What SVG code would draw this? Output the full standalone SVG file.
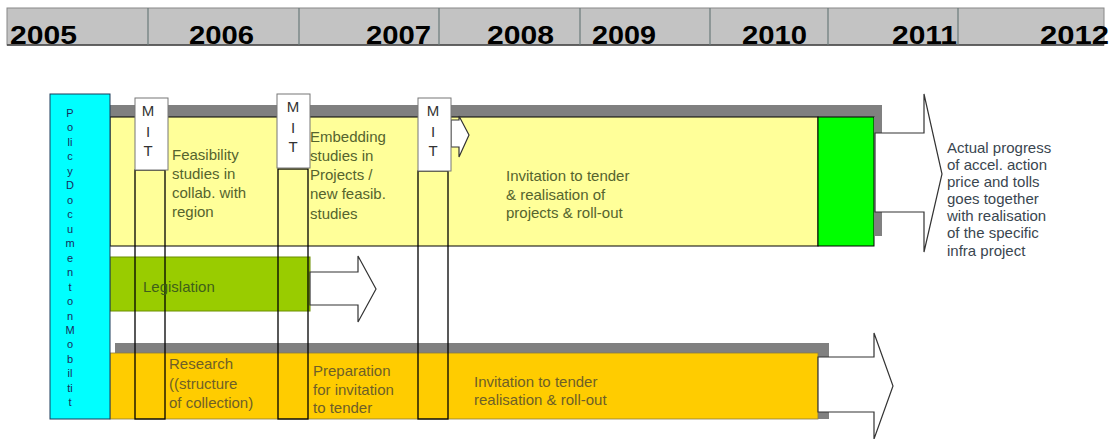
<svg xmlns="http://www.w3.org/2000/svg" width="1115" height="439" viewBox="0 0 1115 439">
<style>
.yr{font-family:"Liberation Sans",Arial,sans-serif;font-weight:bold;font-size:25px;fill:#000}
.t{font-family:"Liberation Sans",Arial,sans-serif;font-size:15px}
.ty{fill:#55642e}
.to{fill:#6e5f28}
.tr{fill:#3a4650}
.mit{font-family:"Liberation Sans",Arial,sans-serif;font-size:15px;fill:#333;text-anchor:middle}
.pol{font-family:"Liberation Sans",Arial,sans-serif;font-size:11px;fill:#1a2a5a;text-anchor:middle}
.out{fill:none;stroke:#000;stroke-width:1.3}
.arrow{fill:#fff;stroke:#333;stroke-width:1.2}
.shadow{fill:#808080}
</style>
<g id="header">
<rect x="7" y="8" width="1097" height="37" fill="#c3c3c3" stroke="#888" stroke-width="1"/>
<line x1="7" y1="45" x2="1104" y2="45" stroke="#444" stroke-width="1.5"/>
<g stroke="#6a7a7a" stroke-width="1.2">
<line x1="148" y1="8" x2="148" y2="45"/>
<line x1="299" y1="8" x2="299" y2="45"/>
<line x1="439" y1="8" x2="439" y2="45"/>
<line x1="580" y1="8" x2="580" y2="45"/>
<line x1="710" y1="8" x2="710" y2="45"/>
<line x1="828" y1="8" x2="828" y2="45"/>
<line x1="958" y1="8" x2="958" y2="45"/>
</g>
<text class="yr" x="10" y="44" textLength="67" lengthAdjust="spacingAndGlyphs">2005</text>
<text class="yr" x="189" y="44" textLength="65" lengthAdjust="spacingAndGlyphs">2006</text>
<text class="yr" x="366" y="44" textLength="65" lengthAdjust="spacingAndGlyphs">2007</text>
<text class="yr" x="487" y="44" textLength="67" lengthAdjust="spacingAndGlyphs">2008</text>
<text class="yr" x="592" y="44" textLength="64" lengthAdjust="spacingAndGlyphs">2009</text>
<text class="yr" x="742" y="44" textLength="65" lengthAdjust="spacingAndGlyphs">2010</text>
<text class="yr" x="892" y="44" textLength="65" lengthAdjust="spacingAndGlyphs">2011</text>
<text class="yr" x="1040" y="44" textLength="69" lengthAdjust="spacingAndGlyphs">2012</text>
</g>
<g id="row-top">
<path class="shadow" d="M110,105 H882 V236 H875 V117 H110 Z"/>
<rect x="110" y="117" width="708" height="129" fill="#ffff99" stroke="#000" stroke-width="1"/>
<rect x="818" y="117" width="56" height="129" fill="#00ff00" stroke="#000" stroke-width="1"/>
</g>
<g id="row-legislation">
<rect x="110" y="257" width="200" height="54" fill="#99cc00" stroke="#6b8e00" stroke-width="1"/>
</g>
<g id="row-bottom">
<rect class="shadow" x="115" y="343" width="714" height="76"/>
<rect x="110" y="353" width="708" height="66" fill="#ffcc00" stroke="#8a7a40" stroke-width="0.8"/>
</g>
<g id="connectors">
<path class="arrow" d="M875,133 H924 V94 L942,174 L924,252 V212 H875 Z"/>
<path class="arrow" d="M310,272 H358 V256 L376,289 L358,322 V305 H310 Z"/>
<path class="arrow" d="M818,357 H874 V333 L893,386 L874,439 V412 H818 Z"/>
<path class="arrow" d="M451,120 H459 V116 L469,135 L459,157 V147 H451 Z"/>
</g>
<g id="policy-document">
<rect x="50" y="94" width="60" height="325" fill="#00ffff" stroke="#1a3a5a" stroke-width="1"/>
<text class="pol" x="70">
<tspan x="70" y="117">P</tspan><tspan x="70" y="131">o</tspan><tspan x="70" y="146">li</tspan><tspan x="70" y="160">c</tspan><tspan x="70" y="175">y</tspan><tspan x="70" y="189">D</tspan><tspan x="70" y="204">o</tspan><tspan x="70" y="218">c</tspan><tspan x="70" y="233">u</tspan><tspan x="70" y="247">m</tspan><tspan x="70" y="262">e</tspan><tspan x="70" y="276">n</tspan><tspan x="70" y="291">t</tspan><tspan x="70" y="305">o</tspan><tspan x="70" y="320">n</tspan><tspan x="70" y="334">M</tspan><tspan x="70" y="348">o</tspan><tspan x="70" y="363">b</tspan><tspan x="70" y="377">il</tspan><tspan x="70" y="392">ti</tspan><tspan x="70" y="406">t</tspan>
</text>
</g>
<g id="mit-1">
<rect class="out" x="135" y="170" width="30" height="249"/>
<rect x="135" y="98" width="33" height="72" fill="#fff" stroke="#777" stroke-width="1"/>
<text class="mit"><tspan x="148" y="116">M</tspan><tspan x="148" y="137">I</tspan><tspan x="148" y="156">T</tspan></text>
</g>
<g id="mit-2">
<rect class="out" x="278" y="169" width="30" height="250"/>
<rect x="277" y="94" width="33" height="74" fill="#fff" stroke="#777" stroke-width="1"/>
<text class="mit"><tspan x="293" y="112">M</tspan><tspan x="293" y="133">I</tspan><tspan x="293" y="152">T</tspan></text>
</g>
<g id="mit-3">
<rect class="out" x="418" y="171" width="30" height="248"/>
<rect x="418" y="98" width="33" height="73" fill="#fff" stroke="#777" stroke-width="1"/>
<text class="mit"><tspan x="433" y="116">M</tspan><tspan x="433" y="137">I</tspan><tspan x="433" y="156">T</tspan></text>
</g>
<g id="text-feasibility">
<text class="t ty"><tspan x="172" y="160">Feasibility</tspan><tspan x="172" y="179">studies in</tspan><tspan x="172" y="198">collab. with</tspan><tspan x="172" y="217">region</tspan></text>
</g>
<g id="text-embedding">
<text class="t ty"><tspan x="310" y="142">Embedding</tspan><tspan x="310" y="161">studies in</tspan><tspan x="310" y="180">Projects /</tspan><tspan x="310" y="199">new feasib.</tspan><tspan x="310" y="219">studies</tspan></text>
</g>
<g id="text-invitation-top">
<text class="t ty"><tspan x="506" y="181">Invitation to tender</tspan><tspan x="506" y="200">&amp; realisation of</tspan><tspan x="506" y="218">projects &amp; roll-out</tspan></text>
</g>
<g id="text-actual">
<text class="t tr"><tspan x="947" y="153">Actual progress</tspan><tspan x="947" y="170">of accel. action</tspan><tspan x="947" y="187">price and tolls</tspan><tspan x="947" y="204">goes together</tspan><tspan x="947" y="221">with realisation</tspan><tspan x="947" y="238">of the specific</tspan><tspan x="947" y="256">infra project</tspan></text>
</g>
<g id="text-legislation">
<text class="t" fill="#3f5f1a" x="143" y="292">Legislation</text>
</g>
<g id="text-research">
<text class="t to"><tspan x="169" y="369">Research</tspan><tspan x="169" y="389">((structure</tspan><tspan x="169" y="408">of collection)</tspan></text>
</g>
<g id="text-preparation">
<text class="t to"><tspan x="313" y="376">Preparation</tspan><tspan x="313" y="395">for invitation</tspan><tspan x="313" y="413">to tender</tspan></text>
</g>
<g id="text-invitation-bottom">
<text class="t to"><tspan x="474" y="387">Invitation to tender</tspan><tspan x="474" y="405">realisation &amp; roll-out</tspan></text>
</g>
</svg>
